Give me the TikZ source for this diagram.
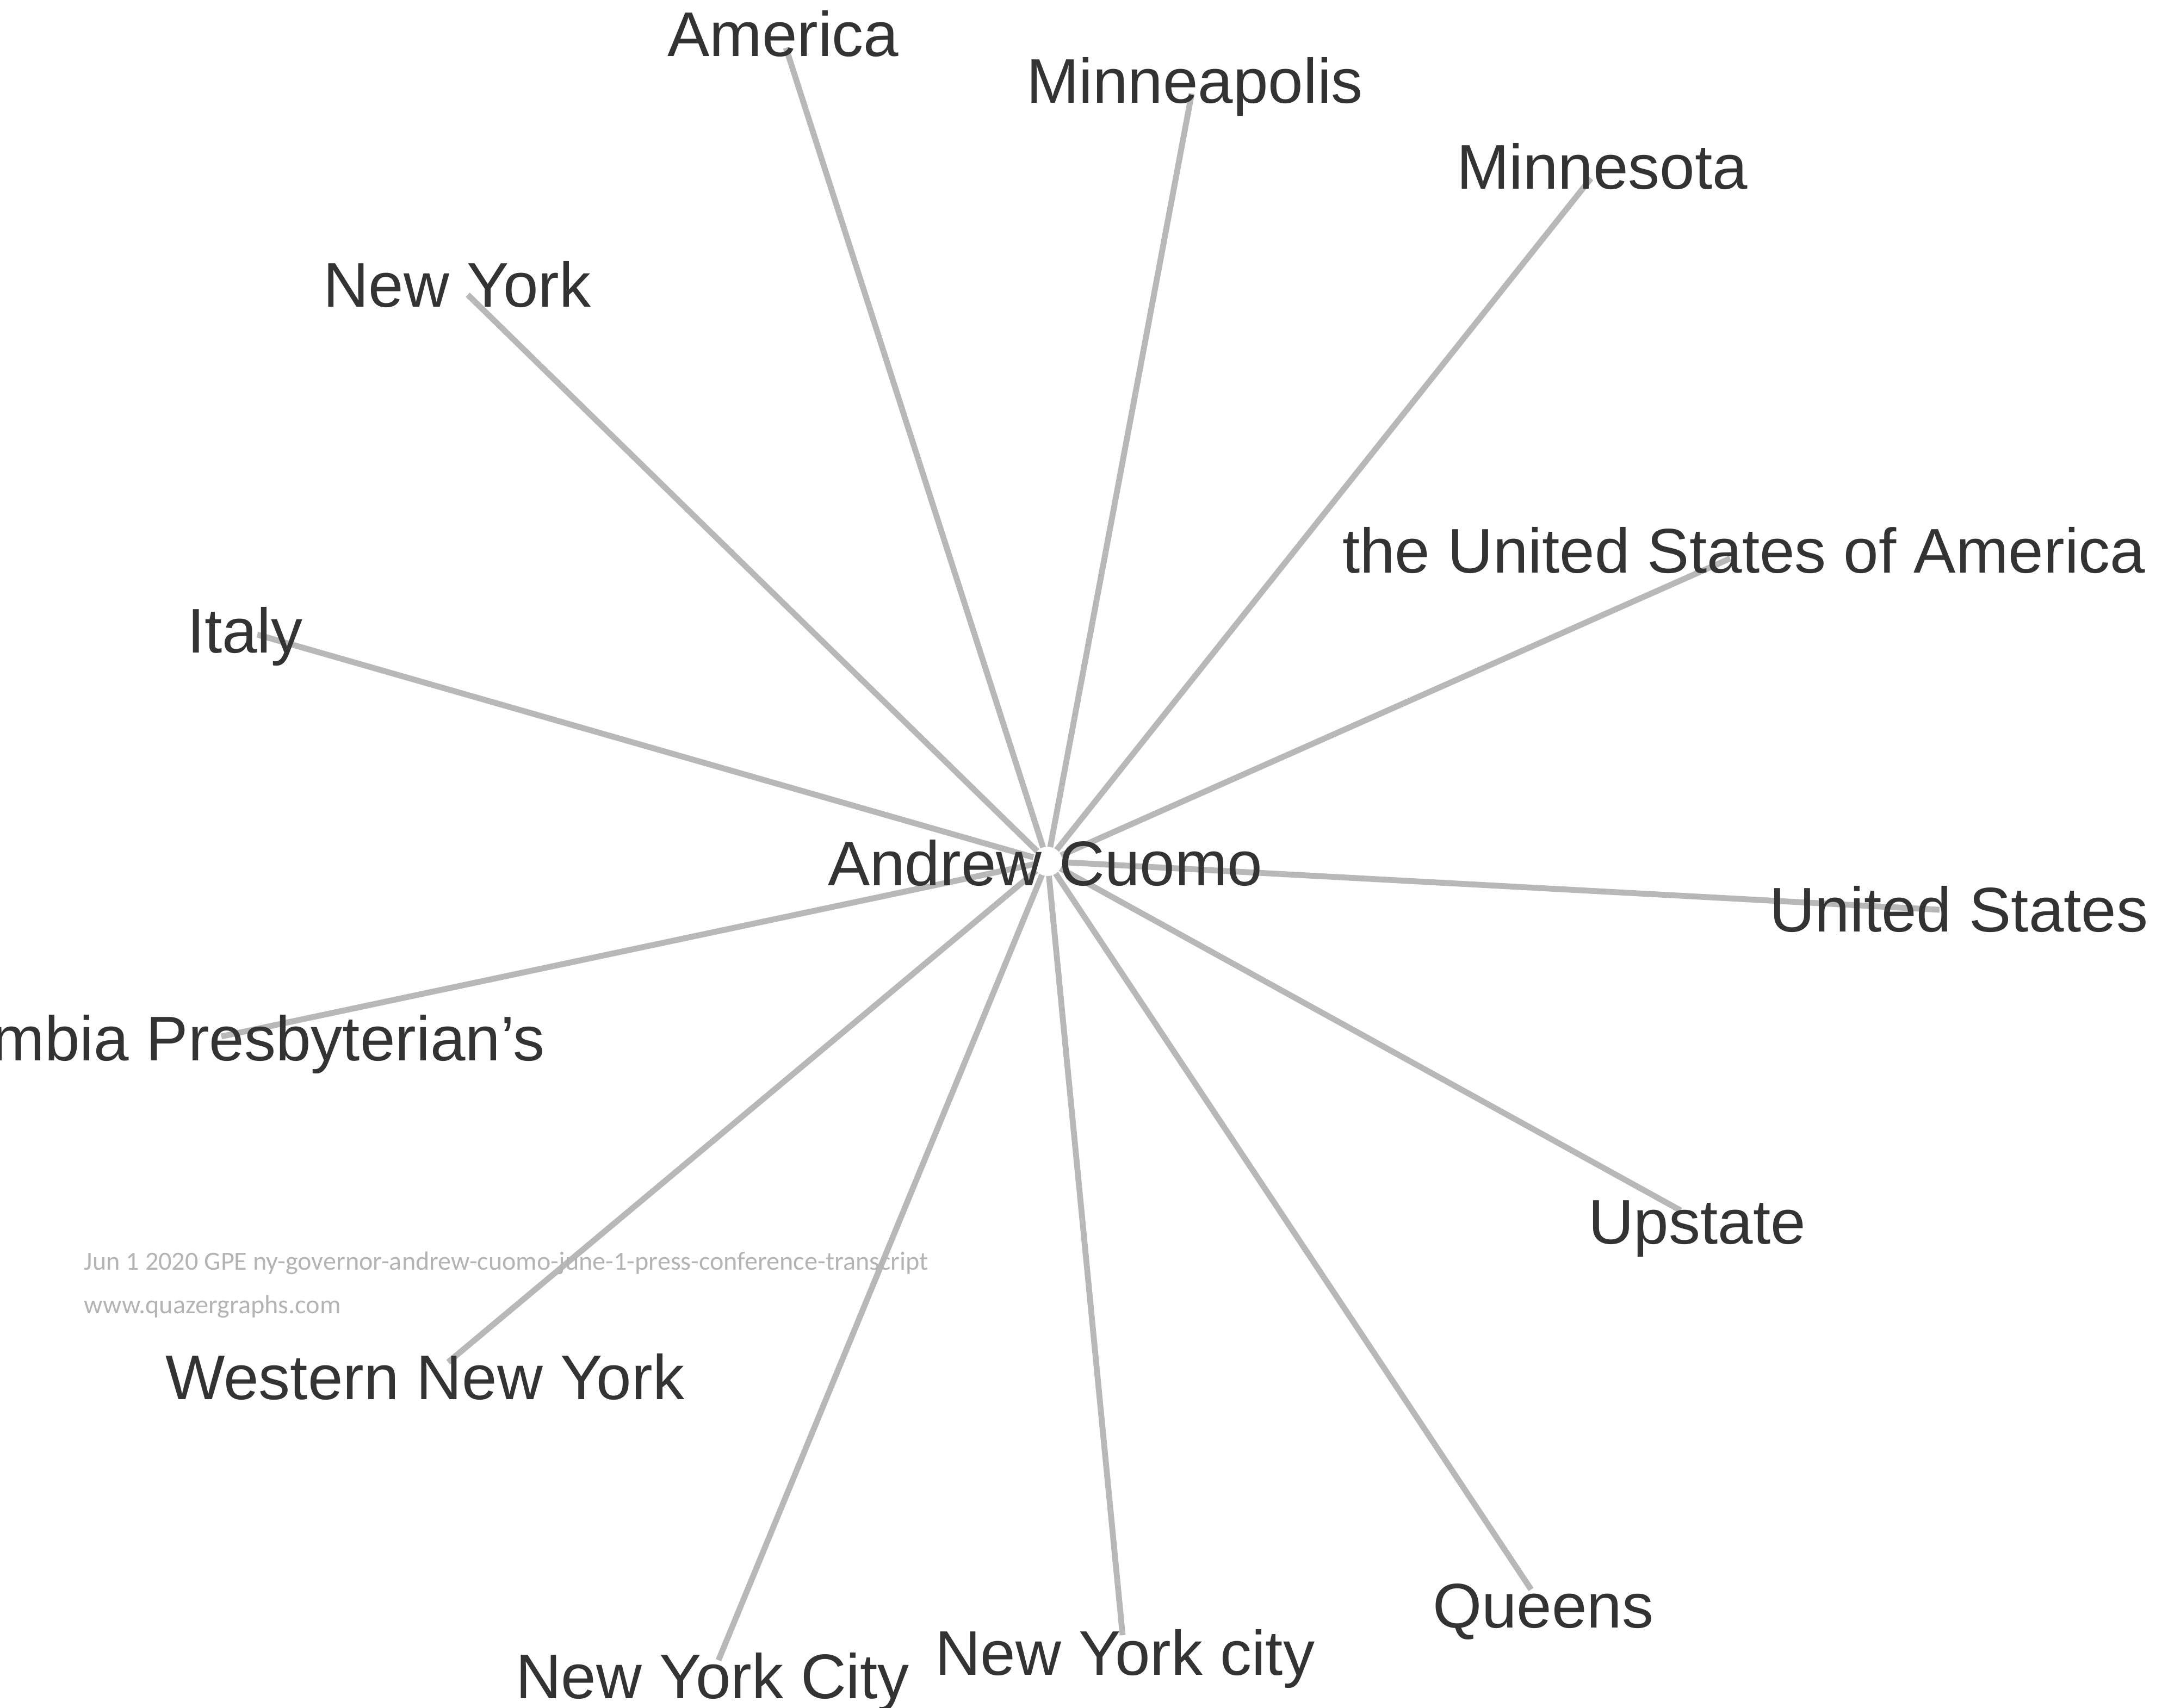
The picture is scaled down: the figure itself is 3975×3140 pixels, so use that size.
\documentclass[tikz,border=0pt]{standalone}
\usepackage{fontspec}
\setmainfont{Liberation Sans}
\newfontfamily\wmfont{Carlito}
\definecolor{txt}{HTML}{333333}
\definecolor{edge}{HTML}{B8B8B8}
\definecolor{wm}{HTML}{B4B4B4}
\begin{document}
\begin{tikzpicture}[x=0.25pt,y=-0.25pt,
  lbl/.style={inner sep=0pt,outer sep=0pt,text=txt,font=\fontsize{29pt}{34pt}\selectfont},
  link/.style={draw=edge,line width=2.7pt},
  wmark/.style={inner sep=0pt,text=wm,font=\wmfont\fontsize{12.05pt}{15pt}\selectfont,anchor=base west}]
\useasboundingbox (0,0) rectangle (3975,3140);
\fill[white] (0,0) rectangle (3975,3140);
% hub and end points
\coordinate (c) at (1926,1584);
\coordinate (eAmerica) at (1445,88);
\coordinate (eMinneapolis) at (2191,172);
\coordinate (eMinnesota) at (2925,328);
\coordinate (eUSA) at (3181,1027);
\coordinate (eUS) at (3566,1673);
\coordinate (eUpstate) at (3090,2226);
\coordinate (eQueens) at (2815,2923);
\coordinate (eNYcity) at (2064,3007);
\coordinate (eNYCity) at (1321,3053);
\coordinate (eWNY) at (824,2505);
\coordinate (eColumbia) at (407,1906);
\coordinate (eItaly) at (473,1167);
\coordinate (eNY) at (860,542);
% connectors
\foreach \e in {eAmerica,eMinneapolis,eMinnesota,eUSA,eUS,eUpstate,eQueens,eNYcity,eNYCity,eWNY,eColumbia,eItaly,eNY}
  \draw[link] (c) -- (\e);
\fill[white] (c) circle (27);
% labels
\node[lbl,anchor=base west] (cuomo) at (1522,1628) {Andrew Cuomo};
\node[lbl,anchor=base west] (america) at (1227,103) {America};
\node[lbl,anchor=base west] (minneapolis) at (1887,189) {Minneapolis};
\node[lbl,anchor=base west] (minnesota) at (2678,347) {Minnesota};
\node[lbl,anchor=base west] (usa) at (2468,1053) {the United States of America};
\node[lbl,anchor=base west] (us) at (3253,1713) {United States};
\node[lbl,anchor=base west] (upstate) at (2920,2287) {Upstate};
\node[lbl,anchor=base west] (queens) at (2634,2993) {Queens};
\node[lbl,anchor=base west] (nycity) at (1719,3080) {New York city};
\node[lbl,anchor=base west] (nyCity) at (948,3123) {New York City};
\node[lbl,anchor=base west] (wny) at (304,2573) {Western New York};
\node[lbl,anchor=base east] (columbia) at (1002,1950) {Columbia Presbyterian’s};
\node[lbl,anchor=base west] (italy) at (344,1200) {Italy};
\node[lbl,anchor=base west] (ny) at (594,564) {New York};
% watermark
\node[wmark] (wm1) at (154,2335) {Jun 1 2020 GPE ny-governor-andrew-cuomo-june-1-press-conference-transcript};
\node[wmark] (wm2) at (154,2415) {www.quazergraphs.com};
\end{tikzpicture}
\end{document}
